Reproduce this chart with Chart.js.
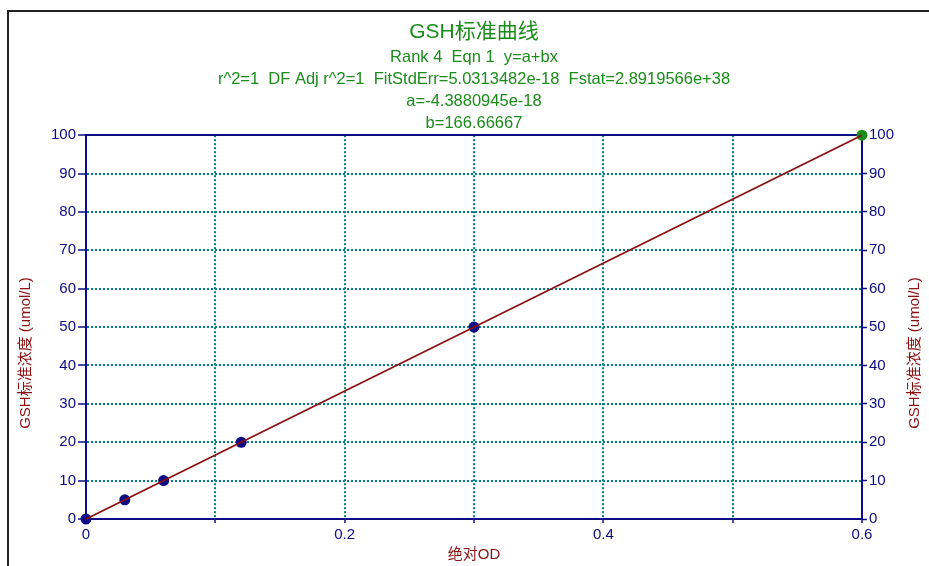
<!DOCTYPE html>
<html>
<head>
<meta charset="utf-8">
<script src="https://cdn.jsdelivr.net/npm/chart.js@4"></script>
<style>
  html, body { margin: 0; padding: 0; background: #fff; }
</style>
</head>
<body>
<canvas id="chart" width="929" height="566"></canvas>
<script>
// standard curve points
const odValues = [0, 0.03, 0.06, 0.12, 0.3, 0.6];
const gshConc = [0, 5, 10, 20, 50, 100];

// fitted line end points (y = a + bx)
const fitOd = [0, 0.6];
const fitConc = [0, 100];

const xTickLabels = ["0", "0.2", "0.4", "0.6"];
const yTickLabels = ["0", "10", "20", "30", "40", "50", "60", "70", "80", "90", "100"];

const chartTitle = "GSH标准曲线";
const fitInfo = [
  "Rank 4  Eqn 1  y=a+bx",
  "r^2=1  DF Adj r^2=1  FitStdErr=5.0313482e-18  Fstat=2.8919566e+38",
  "a=-4.3880945e-18",
  "b=166.66667"
];
const xTitle = "绝对OD";
const yTitle = "GSH标准浓度 (umol/L)";

const FONT = '"Liberation Sans", Arial, "Noto Sans CJK SC", sans-serif';
const NAVY = "#0c0c86";
const GREEN = "#1a8c1a";
const DARK_RED = "#8b1010";
const TEAL = "#008080";
const NONE = "rgba(0,0,0,0)";

// frame around the figure and the two vertical axis titles
const decorations = {
  id: "decorations",
  beforeDraw(chart) {
    const ctx = chart.ctx;
    ctx.save();
    ctx.fillStyle = "#fff";
    ctx.fillRect(0, 0, chart.width, chart.height);
    ctx.strokeStyle = "#222";
    ctx.lineWidth = 2;
    ctx.beginPath();
    ctx.moveTo(8, chart.height);
    ctx.lineTo(8, 11);
    ctx.lineTo(chart.width, 11);
    ctx.stroke();
    ctx.restore();
  },
  afterDraw(chart) {
    const ctx = chart.ctx;
    ctx.save();
    ctx.font = "15px " + FONT;
    ctx.fillStyle = DARK_RED;
    ctx.textAlign = "center";
    ctx.textBaseline = "middle";
    [26, chart.width - 14].forEach(x => {
      ctx.save();
      ctx.translate(x, 353);
      ctx.rotate(-Math.PI / 2);
      ctx.fillText(yTitle, 0, 0);
      ctx.restore();
    });
    ctx.restore();
  }
};

function xLabel(value) {
  const idx = Math.round(value * 10);
  return idx % 2 === 0 ? xTickLabels[idx / 2] : "";
}

function yLabel(value) {
  return yTickLabels[Math.round(value / 10)];
}

new Chart(document.getElementById("chart"), {
  type: "scatter",
  data: {
    datasets: [
      {
        label: "fit",
        data: fitOd.map((x, i) => ({ x: x, y: fitConc[i] })),
        showLine: true,
        borderColor: DARK_RED,
        borderWidth: 1.8,
        pointRadius: 0,
        clip: false
      },
      {
        label: "GSH",
        data: odValues.map((x, i) => ({ x: x, y: gshConc[i] })),
        pointRadius: 5.5,
        pointHoverRadius: 5.5,
        borderWidth: 0,
        backgroundColor: ctx => ctx.dataIndex === odValues.length - 1 ? GREEN : NAVY,
        clip: false
      }
    ]
  },
  plugins: [decorations],
  options: {
    responsive: false,
    animation: false,
    layout: { padding: 0, autoPadding: false },
    plugins: {
      legend: { display: false },
      tooltip: { enabled: false },
      title: {
        display: true,
        text: chartTitle,
        color: GREEN,
        fullSize: false,
        font: { family: FONT, size: 21, weight: "normal", lineHeight: 1.2 },
        padding: { top: 20, bottom: 0 }
      },
      subtitle: {
        display: true,
        text: fitInfo,
        color: GREEN,
        fullSize: false,
        font: { family: FONT, size: 16.5, weight: "normal", lineHeight: "22px" },
        padding: { top: 1, bottom: 1 }
      }
    },
    scales: {
      x: {
        type: "linear",
        position: "bottom",
        min: 0,
        max: 0.6,
        ticks: {
          stepSize: 0.1,
          color: NAVY,
          padding: 3,
          maxRotation: 0,
          autoSkip: false,
          font: { family: FONT, size: 15 },
          callback: xLabel
        },
        grid: {
          color: ctx => (ctx.tick.value < 1e-6 || ctx.tick.value > 0.6 - 1e-6) ? NONE : TEAL,
          lineWidth: 2,
          tickColor: NAVY,
          tickLength: 4,
          tickWidth: 1.5
        },
        border: { color: NAVY, width: 2, dash: [2, 2] },
        title: {
          display: true,
          text: xTitle,
          color: DARK_RED,
          font: { family: FONT, size: 15 },
          padding: { top: 0, bottom: 2 }
        },
        afterFit: scale => { scale.height = 47; }
      },
      xTop: {
        type: "linear",
        position: "top",
        min: 0,
        max: 0.6,
        ticks: { display: false },
        grid: { display: false, drawTicks: false },
        border: { color: NAVY, width: 2 },
        afterFit: scale => { scale.height = 0; }
      },
      y: {
        type: "linear",
        position: "left",
        min: 0,
        max: 100,
        ticks: {
          stepSize: 10,
          color: NAVY,
          padding: 2,
          font: { family: FONT, size: 15 },
          callback: yLabel
        },
        grid: {
          color: ctx => (ctx.tick.value === 0 || ctx.tick.value === 100) ? NONE : TEAL,
          lineWidth: 2,
          tickColor: NAVY,
          tickLength: 8,
          tickWidth: 1.5
        },
        border: { color: NAVY, width: 2, dash: [2, 2] },
        afterFit: scale => { scale.width = 86; }
      },
      y2: {
        type: "linear",
        position: "right",
        min: 0,
        max: 100,
        ticks: {
          stepSize: 10,
          color: NAVY,
          padding: 2,
          font: { family: FONT, size: 15 },
          callback: yLabel
        },
        grid: {
          drawOnChartArea: false,
          tickColor: NAVY,
          tickLength: 5,
          tickWidth: 1.5
        },
        border: { color: NAVY, width: 2 },
        afterFit: scale => { scale.width = 67; }
      }
    }
  }
});
</script>
</body>
</html>
